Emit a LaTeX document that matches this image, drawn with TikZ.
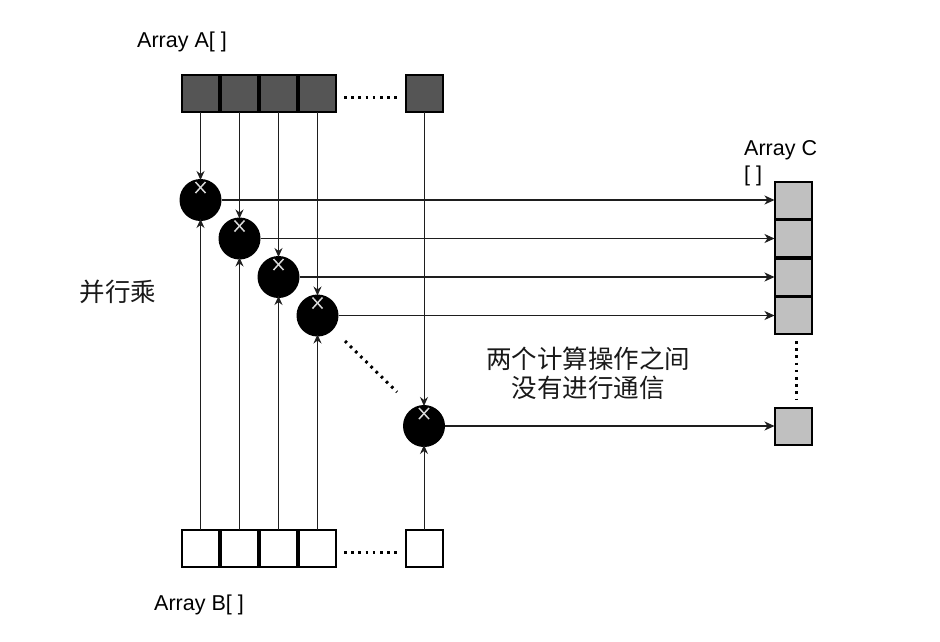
\documentclass[tikz,border=0pt]{standalone}
\usepackage{fontspec}
\setmainfont{Liberation Sans}
\newfontfamily\cjk{Noto Sans CJK SC}
\usetikzlibrary{arrows.meta}
\definecolor{agray}{RGB}{85,85,85}
\definecolor{cgray}{RGB}{192,192,192}
\definecolor{lgray}{RGB}{30,30,30}
\begin{document}
\begin{tikzpicture}[x=1pt,y=-1pt,
  cellbox/.style={draw=black, line width=2pt, minimum size=37pt, inner sep=0pt, outer sep=0pt},
  acell/.style={cellbox, fill=agray},
  bcell/.style={cellbox, fill=white},
  ccell/.style={cellbox, fill=cgray},
  mult/.style={circle, fill=black, minimum size=42pt, inner sep=0pt, outer sep=0pt},
  feed/.style={draw=lgray, line width=0.9pt, -{Stealth[length=9pt,width=8pt,inset=3pt]}},
  outarrow/.style={draw=lgray, line width=1.1pt, -{Stealth[length=10pt,width=9pt,inset=3pt]}},
  dotline/.style={draw=black, line width=3pt, dash pattern=on 2.6pt off 4.6pt},
  xmark/.style={draw=white!85!black, line width=1.5pt},
  lbl/.style={font=\fontsize{21.5}{24}\selectfont, text=black, inner sep=0pt},
  cjklbl/.style={font=\cjk\fontsize{25.5}{30}\selectfont, text=black!90, inner sep=0pt}
]
\useasboundingbox (0,0) rectangle (940,641);
% Array A
\node[acell] (a1) at (200.5,93) {};
\node[acell] (a2) at (239.5,93) {};
\node[acell] (a3) at (278.5,93) {};
\node[acell] (a4) at (317.5,93) {};
\node[acell] (an) at (424,93) {};
% Array B
\node[bcell] (b1) at (200.5,548) {};
\node[bcell] (b2) at (239.5,548) {};
\node[bcell] (b3) at (278.5,548) {};
\node[bcell] (b4) at (317.5,548) {};
\node[bcell] (bn) at (424,548) {};
% Array C
\node[ccell] (c1) at (793,200) {};
\node[ccell] (c2) at (793,238.5) {};
\node[ccell] (c3) at (793,277) {};
\node[ccell] (c4) at (793,315.5) {};
\node[ccell] (cn) at (793,426) {};
% multipliers
\node[mult] (m1) at (200.5,200) {};
\node[mult] (m2) at (239.5,238.5) {};
\node[mult] (m3) at (278.5,277) {};
\node[mult] (m4) at (317.5,315.5) {};
\node[mult] (mn) at (424,426) {};
% horizontal outputs
\foreach \i in {1,2,3,4,n}{
  \draw[outarrow] (m\i.east) -- (c\i.west);
}
% vertical feeds
\foreach \i in {1,2,3,4,n}{
  \draw[feed] (a\i.south) -- ([yshift=-1pt]m\i.north);
  \draw[feed] (b\i.north) -- ([yshift=2pt]m\i.south);
  \draw[xmark] ([xshift=-5pt,yshift=-3pt]m\i.north) -- ([xshift=5pt,yshift=-14pt]m\i.north);
  \draw[xmark] ([xshift=5pt,yshift=-3pt]m\i.north) -- ([xshift=-5pt,yshift=-14pt]m\i.north);
}
% dotted gaps
\coordinate (ad1) at (344,97);
\coordinate (ad2) at (397,97);
\coordinate (bd1) at (344,552);
\coordinate (bd2) at (397,552);
\coordinate (cd1) at (796,341);
\coordinate (cd2) at (796,400);
\coordinate (md1) at (345,341);
\coordinate (md2) at (397,392);
\draw[dotline] (ad1) -- (ad2);
\draw[dotline] (bd1) -- (bd2);
\draw[dotline] (cd1) -- (cd2);
\draw[dotline] (md1) -- (md2);
% labels
\node[lbl, anchor=base west] (la) at (137,47) {Array A[ ]};
\node[lbl, anchor=base west] (lb) at (154,610) {Array B[ ]};
\node[lbl, anchor=base west] (lc) at (744,155) {Array C};
\node[lbl, anchor=base west] (lc2) at (744,181) {[ ]};
\node[cjklbl] (lp) at (118,292) {并行乘};
\node[cjklbl] (ln1) at (588,359) {两个计算操作之间};
\node[cjklbl] (ln2) at (588,388) {没有进行通信};
\end{tikzpicture}
\end{document}
